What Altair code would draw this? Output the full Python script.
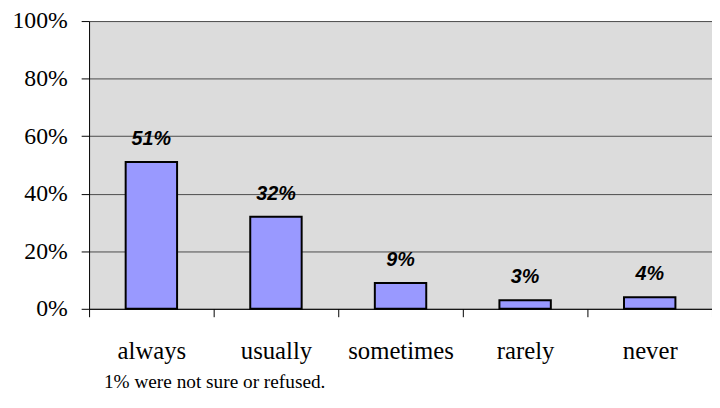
import altair as alt
import pandas as pd

categories = ["always", "usually", "sometimes", "rarely", "never"]
values = [0.51, 0.32, 0.09, 0.03, 0.04]
y_ticks = [0, 0.2, 0.4, 0.6, 0.8, 1.0]
footnote = "1% were not sure or refused."

df = pd.DataFrame({"cat": categories, "val": values})

serif = "Liberation Serif"

x = alt.X("cat:N", sort=categories,
          scale=alt.Scale(paddingInner=0, paddingOuter=0),
          axis=alt.Axis(title=None, labelAngle=0, tickBand="extent",
                        labelFont=serif, labelFontSize=25, labelColor="black",
                        labelPadding=22, tickSize=8, tickColor="black",
                        domainColor="black", grid=False))
y = alt.Y("val:Q",
          scale=alt.Scale(domain=[0, 1], nice=False),
          axis=alt.Axis(title=None, values=y_ticks, format=".0%",
                        labelFont=serif, labelFontSize=24, labelColor="black",
                        labelPadding=14, tickSize=8, tickColor="black",
                        domainColor="black", grid=True, gridColor="#4a4a4a",
                        gridOpacity=1))

base = alt.Chart(df)

bars = base.mark_bar(size=52, color="#9999ff", stroke="black", strokeWidth=2).encode(x=x, y=y)
labels = base.mark_text(font="Liberation Sans", fontSize=20, fontWeight="bold",
                        fontStyle="italic", dy=-17, baseline="alphabetic",
                        color="black").encode(
    x=alt.X("cat:N", sort=categories), y="val:Q",
    text=alt.Text("val:Q", format=".0%"))

chart = alt.layer(bars, labels).properties(
    width=630, height=291,
    autosize="none",
    padding={"left": 82, "top": 11, "right": 0, "bottom": 90},
    title=alt.TitleParams(footnote, orient="bottom", anchor="start", frame="group",
                          dx=15, offset=10, font=serif, fontSize=19.5,
                          fontWeight="normal", color="black"),
).configure_view(fill="#dcdcdc", stroke=None)

chart.save("out.html", embed_options={"renderer": "svg", "actions": False})
